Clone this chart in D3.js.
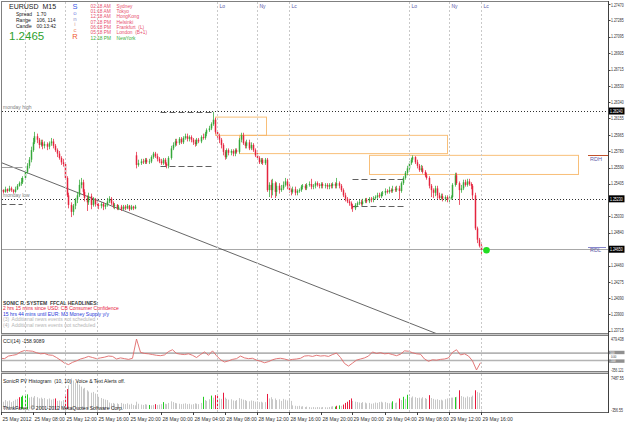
<!DOCTYPE html>
<html><head><meta charset="utf-8">
<script src="https://d3js.org/d3.v7.min.js"></script>
<style>
html,body{margin:0;padding:0;background:#fff;}
svg{display:block;font-family:"Liberation Sans",Arial,sans-serif;}
</style></head>
<body>
<svg id="chart" width="625" height="424"></svg>
<script>
// ---------- DATA ----------
const symbolName = "EURUSD  M15";
const lastPrice = 1.2465;
const infoRows = [["Spread","1.70"],["Range","106, 114"],["Candle","00:13:42"]];
const sonicLetters = ["S","o","n","i","c","R"];
const sonicColors = ["#3c5ae6","#7d8ee8","#8c8ccc","#d6a0a8","#ee8a6a","#f0582e"];
const clockTimes = ["02:18 AM","01:18 AM","12:18 AM","07:18 PM","06:18 PM","05:18 PM","12:18 PM"];
const clockCities = ["Sydney","Tokyo","HongKong","Helsinki","Frankfurt  (L)","London  (B+1)","NewYork"];
const headlines = ["SONIC R. SYSTEM  FFCAL HEADLINES:","2 hrs 15 mins since USD: CB Consumer Confidence","15 hrs 44 mins until EUR: M3 Money Supply y/y","(3)  Additional news events not scheduled","(4)  Additional news events not scheduled"];
const headlineColors = ["#3a3a3a","#e8203c","#2438d8","#b4b4b4","#b4b4b4"];

const timeLabels = ["25 May 2012","25 May 08:00","25 May 12:00","25 May 16:00","25 May 20:00","28 May 00:00","28 May 04:00","28 May 08:00","28 May 12:00","28 May 16:00","28 May 20:00","29 May 00:00","29 May 04:00","29 May 08:00","29 May 12:00","29 May 16:00"];
const priceTicks = ["1.27470","1.27285","1.27095","1.26905","1.26715","1.26530","1.26340","1.26155","1.25965","1.25780","1.25590","1.25405","1.25220","1.25030","1.24840","1.24650","1.24460","1.24275","1.24090","1.23900","1.23715"];

const sessionBars = [12,32,48,108,128,144,204,224,240];
const sessionNames = ["Lo","Ny","Lc","Lo","Ny","Lc","Lo","Ny","Lc"];
const sessionShown = [0,0,0,1,1,1,1,1,1];

const open = [1.2532,1.2533,1.2531,1.2534,1.2532,1.2535,1.2533,1.2531,1.2534,1.2538,
1.2541,1.2542,1.2547,1.2554,1.2561,1.2568,1.2579,1.2588,1.2595,1.2591,
1.2585,1.2588,1.2584,1.2586,1.2583,1.2587,1.2589,1.2584,1.2579,1.2575,
1.2570,1.2565,1.2563,1.2547,1.2527,1.2516,1.2508,1.2515,1.2522,1.2527,
1.2539,1.2542,1.2531,1.2524,1.2519,1.2526,1.2516,1.2522,1.2517,1.2516,
1.2515,1.2517,1.2514,1.2516,1.2520,1.2523,1.2518,1.2515,1.2516,1.2512,
1.2514,1.2511,1.2514,1.2512,1.2515,1.2511,1.2514,1.2512,
1.2573,1.2562,
1.2564,1.2566,1.2565,1.2568,1.2565,1.2566,1.2571,1.2575,1.2572,1.2569,
1.2566,1.2564,1.2568,1.2563,1.2561,1.2570,1.2581,1.2585,1.2589,1.2587,
1.2592,1.2588,1.2593,1.2595,1.2592,1.2594,1.2591,1.2588,1.2586,1.2591,
1.2589,1.2594,1.2593,1.2598,1.2602,1.2604,1.2609,1.2614,1.2600,1.2595,
1.2591,1.2585,1.2577,1.2571,1.2579,1.2576,1.2578,1.2575,1.2579,1.2577,
1.2591,1.2596,1.2587,1.2584,1.2588,1.2581,1.2585,1.2579,1.2573,1.2570,
1.2565,1.2568,1.2564,1.2568,1.2533,1.2539,1.2533,1.2541,1.2531,1.2538,
1.2533,1.2535,1.2539,1.2543,1.2538,1.2533,1.2531,1.2534,1.2530,1.2532,
1.2533,1.2537,1.2538,1.2535,1.2539,1.2540,1.2537,1.2538,1.2541,1.2539,
1.2538,1.2540,1.2538,1.2539,1.2537,1.2539,1.2538,1.2540,1.2538,1.2541,
1.2538,1.2533,1.2527,1.2523,1.2520,1.2518,1.2515,1.2512,1.2516,1.2518,
1.2519,1.2517,1.2520,1.2522,1.2520,1.2523,1.2522,1.2524,1.2525,1.2527,
1.2526,1.2529,1.2530,1.2532,1.2531,1.2533,1.2532,1.2534,1.2533,1.2535,
1.2532,1.2541,1.2547,1.2553,1.2558,1.2564,1.2568,1.2571,1.2565,1.2561,
1.2556,1.2558,1.2554,1.2550,1.2547,1.2538,1.2533,1.2530,1.2535,1.2527,
1.2524,1.2526,1.2523,1.2525,1.2522,1.2524,1.2525,1.2539,1.2550,1.2541,
1.2533,1.2535,1.2542,1.2539,1.2543,1.2540,1.2538,1.2527,1.2489,1.2476,
1.2469];
const high = [1.2535,1.2534,1.2537,1.2535,1.2538,1.2537,1.2534,1.2537,1.2540,1.2543,
1.2547,1.2549,1.2556,1.2564,1.2571,1.2583,1.2593,1.2600,1.2598,1.2593,
1.2591,1.2591,1.2589,1.2588,1.2589,1.2593,1.2592,1.2586,1.2581,1.2578,
1.2572,1.2569,1.2565,1.2549,1.2530,1.2519,1.2517,1.2524,1.2531,1.2545,
1.2547,1.2545,1.2534,1.2527,1.2530,1.2529,1.2525,1.2524,1.2520,1.2518,
1.2519,1.2519,1.2518,1.2524,1.2526,1.2525,1.2520,1.2518,1.2517,1.2516,
1.2516,1.2516,1.2516,1.2517,1.2516,1.2516,1.2515,1.2516,
1.2577,1.2568,
1.2569,1.2569,1.2570,1.2570,1.2569,1.2573,1.2577,1.2577,1.2575,1.2571,
1.2569,1.2570,1.2570,1.2565,1.2572,1.2584,1.2588,1.2592,1.2592,1.2594,
1.2594,1.2595,1.2598,1.2598,1.2596,1.2596,1.2593,1.2591,1.2593,1.2593,
1.2596,1.2598,1.2600,1.2604,1.2607,1.2611,1.2623,1.2616,1.2602,1.2598,
1.2593,1.2587,1.2579,1.2581,1.2581,1.2580,1.2580,1.2581,1.2581,1.2593,
1.2599,1.2599,1.2589,1.2591,1.2591,1.2588,1.2587,1.2581,1.2576,1.2572,
1.2570,1.2570,1.2570,1.2570,1.2542,1.2545,1.2546,1.2543,1.2542,1.2541,
1.2539,1.2543,1.2547,1.2546,1.2540,1.2535,1.2537,1.2537,1.2534,1.2535,
1.2539,1.2540,1.2540,1.2541,1.2543,1.2546,1.2540,1.2543,1.2543,1.2541,
1.2542,1.2542,1.2541,1.2541,1.2541,1.2541,1.2542,1.2542,1.2547,1.2543,
1.2540,1.2535,1.2530,1.2525,1.2523,1.2520,1.2517,1.2518,1.2520,1.2522,
1.2522,1.2523,1.2524,1.2524,1.2525,1.2525,1.2526,1.2527,1.2530,1.2530,
1.2531,1.2532,1.2535,1.2534,1.2537,1.2535,1.2538,1.2537,1.2538,1.2538,
1.2543,1.2549,1.2555,1.2561,1.2566,1.2570,1.2573,1.2572,1.2568,1.2563,
1.2562,1.2561,1.2556,1.2553,1.2549,1.2540,1.2535,1.2538,1.2538,1.2530,
1.2529,1.2529,1.2527,1.2527,1.2526,1.2527,1.2541,1.2553,1.2553,1.2543,
1.2539,1.2545,1.2545,1.2546,1.2546,1.2542,1.2540,1.2530,1.2491,1.2478,
1.2471];
const low = [1.2530,1.2529,1.2530,1.2530,1.2531,1.2531,1.2529,1.2530,1.2533,1.2537,
1.2538,1.2540,1.2545,1.2552,1.2558,1.2565,1.2577,1.2586,1.2587,1.2581,
1.2583,1.2580,1.2581,1.2579,1.2580,1.2584,1.2581,1.2577,1.2571,1.2568,
1.2562,1.2560,1.2545,1.2525,1.2512,1.2502,1.2504,1.2511,1.2518,1.2525,
1.2535,1.2527,1.2520,1.2509,1.2516,1.2511,1.2514,1.2514,1.2512,1.2511,
1.2512,1.2510,1.2511,1.2514,1.2518,1.2516,1.2512,1.2511,1.2510,1.2510,
1.2509,1.2510,1.2510,1.2511,1.2509,1.2510,1.2510,1.2511,
1.2558,1.2560,
1.2562,1.2563,1.2563,1.2563,1.2563,1.2564,1.2569,1.2570,1.2566,1.2564,
1.2562,1.2562,1.2561,1.2558,1.2558,1.2568,1.2579,1.2583,1.2584,1.2585,
1.2586,1.2586,1.2591,1.2589,1.2589,1.2588,1.2585,1.2583,1.2584,1.2587,
1.2587,1.2591,1.2591,1.2595,1.2600,1.2602,1.2607,1.2598,1.2592,1.2587,
1.2581,1.2573,1.2568,1.2569,1.2573,1.2573,1.2572,1.2572,1.2575,1.2575,
1.2588,1.2585,1.2581,1.2581,1.2579,1.2579,1.2577,1.2571,1.2568,1.2563,
1.2563,1.2562,1.2562,1.2531,1.2525,1.2524,1.2527,1.2524,1.2526,1.2529,
1.2531,1.2533,1.2537,1.2534,1.2530,1.2527,1.2529,1.2527,1.2527,1.2530,
1.2531,1.2534,1.2533,1.2533,1.2537,1.2534,1.2534,1.2535,1.2537,1.2535,
1.2535,1.2535,1.2535,1.2534,1.2534,1.2535,1.2535,1.2535,1.2535,1.2535,
1.2531,1.2525,1.2520,1.2518,1.2515,1.2511,1.2508,1.2510,1.2514,1.2516,
1.2515,1.2515,1.2518,1.2518,1.2518,1.2519,1.2519,1.2522,1.2523,1.2524,
1.2524,1.2526,1.2527,1.2529,1.2529,1.2530,1.2530,1.2531,1.2531,1.2522,
1.2530,1.2539,1.2545,1.2550,1.2556,1.2562,1.2565,1.2563,1.2558,1.2554,
1.2554,1.2552,1.2548,1.2545,1.2535,1.2525,1.2524,1.2526,1.2523,1.2522,
1.2522,1.2520,1.2520,1.2519,1.2519,1.2522,1.2523,1.2537,1.2539,1.2516,
1.2530,1.2533,1.2537,1.2537,1.2538,1.2534,1.2522,1.2487,1.2472,1.2467,
1.2458];
const close = [1.2533,1.2531,1.2534,1.2532,1.2535,1.2533,1.2531,1.2534,1.2538,1.2541,
1.2542,1.2547,1.2554,1.2561,1.2568,1.2579,1.2588,1.2595,1.2591,1.2585,
1.2588,1.2584,1.2586,1.2583,1.2587,1.2589,1.2584,1.2579,1.2575,1.2570,
1.2565,1.2563,1.2547,1.2527,1.2516,1.2508,1.2515,1.2522,1.2527,1.2539,
1.2542,1.2531,1.2524,1.2519,1.2526,1.2516,1.2522,1.2517,1.2516,1.2515,
1.2517,1.2514,1.2516,1.2520,1.2523,1.2518,1.2515,1.2516,1.2512,1.2514,
1.2511,1.2514,1.2512,1.2515,1.2511,1.2514,1.2512,1.2514,
1.2562,1.2564,
1.2566,1.2565,1.2568,1.2565,1.2566,1.2571,1.2575,1.2572,1.2569,1.2566,
1.2564,1.2568,1.2563,1.2561,1.2570,1.2581,1.2585,1.2589,1.2587,1.2592,
1.2588,1.2593,1.2595,1.2592,1.2594,1.2591,1.2588,1.2586,1.2591,1.2589,
1.2594,1.2593,1.2598,1.2602,1.2604,1.2609,1.2614,1.2600,1.2595,1.2591,
1.2585,1.2577,1.2571,1.2579,1.2576,1.2578,1.2575,1.2579,1.2577,1.2591,
1.2596,1.2587,1.2584,1.2588,1.2581,1.2585,1.2579,1.2573,1.2570,1.2565,
1.2568,1.2564,1.2568,1.2533,1.2539,1.2533,1.2541,1.2531,1.2538,1.2533,
1.2535,1.2539,1.2543,1.2538,1.2533,1.2531,1.2534,1.2530,1.2532,1.2533,
1.2537,1.2538,1.2535,1.2539,1.2540,1.2537,1.2538,1.2541,1.2539,1.2538,
1.2540,1.2538,1.2539,1.2537,1.2539,1.2538,1.2540,1.2538,1.2541,1.2538,
1.2533,1.2527,1.2523,1.2520,1.2518,1.2515,1.2512,1.2516,1.2518,1.2519,
1.2517,1.2520,1.2522,1.2520,1.2523,1.2522,1.2524,1.2525,1.2527,1.2526,
1.2529,1.2530,1.2532,1.2531,1.2533,1.2532,1.2534,1.2533,1.2535,1.2532,
1.2541,1.2547,1.2553,1.2558,1.2564,1.2568,1.2571,1.2565,1.2561,1.2556,
1.2558,1.2554,1.2550,1.2547,1.2538,1.2533,1.2530,1.2535,1.2527,1.2524,
1.2526,1.2523,1.2525,1.2522,1.2524,1.2525,1.2539,1.2550,1.2541,1.2533,
1.2535,1.2542,1.2539,1.2543,1.2540,1.2538,1.2527,1.2489,1.2476,1.2469,
1.2465];

// CCI(14) read every second bar (bar = 2*k)
const cciValues = [-40,-50,20,40,60,130,170,160,150,110,
80,90,50,40,-20,-90,-170,-210,-150,-110,
-60,-30,10,-20,-50,-30,-10,20,10,-60,
-30,-50,-70,-40,479,120,90,80,60,40,
30,50,140,190,90,70,60,80,40,-20,
60,130,40,160,30,-80,-140,-110,-70,-50,
20,-30,-50,-40,-90,-120,-160,-130,-80,-50,
-40,-60,-90,-70,-60,-40,20,30,10,40,
20,30,10,60,100,-20,-180,-250,-170,-90,
-60,-30,20,130,90,110,80,90,60,30,
70,160,150,110,80,70,-60,-120,-80,-90,
-70,-60,-30,120,190,50,80,20,-110,-356,
-159];
const cciLevels = [100,-100];

const volume = [2000,1800,2200,1900,2100,1700,2000,2300,2500,2900,
3000,3300,3500,3600,2800,3000,2800,3200,2900,2600,
2800,2500,2700,2400,2600,2300,2500,2600,2000,2100,
1900,2200,3100,4900,5800,7487,7000,6500,6800,6000,
5500,5000,5200,4600,4300,4000,4200,3800,3300,3000,
2700,2500,2300,2200,1600,1400,1500,1300,1400,1200,
1500,1300,1200,1400,1100,1300,1000,900,1800,1300,
1100,1000,1200,1100,1000,900,1000,1200,1000,1100,
1200,1700,1300,1200,1500,1900,1700,1500,1400,1300,
1200,1300,1400,1200,1300,1100,1200,1400,1300,1200,
1500,3000,2200,2000,2400,3300,2800,3400,3600,2600,
2500,4000,2800,2500,2300,2400,2100,2000,2200,2700,
2500,2300,2200,2000,1900,2100,2000,1800,1900,1700,
1800,1600,1700,3700,2600,2900,2400,2600,2200,2400,
2000,2500,2300,2100,2600,2000,900,800,700,800,
600,700,500,600,500,400,500,400,500,450,
400,500,450,400,500,600,700,600,800,900,
800,1100,1500,1800,2200,2600,2000,1800,1700,1600,
1500,1700,1600,1400,1500,1300,1400,1600,1500,1700,
1800,1600,1700,1500,1400,1600,1900,1500,1600,2600,
2200,3000,2500,3500,3000,2800,3100,2900,2700,2800,
2600,2900,2700,2500,3400,2700,2500,2300,2400,2200,
2300,2100,2400,2600,2500,2800,2800,2900,3000,4600,
3200,3000,2800,3100,2900,3000,3300,4600,4200,4000,
600];
const volUpBars = [10,11,12,13,74,81,101,105,167,169,196,201,203,227];
const volDownBars = [9,27,32,33,77,107,108,111,133,168,171,172,173,174,175,199,214,229,237];

const mondayHigh = 1.2624, mondayLow = 1.2523;
const rdh = 1.2573, rdl = 1.2467;
const trendStart = {bar:0, price:1.2565}, trendEnd = {bar:240, price:1.2348};
const boxes = [ {b0:107.5,b1:133,p0:1.2617,p1:1.2596},
                {b0:119.5,b1:223.5,p0:1.2596,p1:1.2575},
                {b0:184.5,b1:289,p0:1.2573,p1:1.2551} ];
const rangeLines = [ {b0:0,b1:11,p:1.2560,dash:false},{b0:0,b1:11,p:1.2517,dash:true},
                     {b0:80,b1:106,p:1.2623,dash:true},{b0:80,b1:106,p:1.2561,dash:true},
                     {b0:176,b1:202,p:1.2546,dash:true},{b0:176,b1:202,p:1.2515,dash:true} ];

// ---------- SCALES ----------
const svg = d3.select("#chart");
const AX = 608;
const x = d3.scaleLinear().domain([0,240]).range([0.5,480.5]);
const y = d3.scaleLinear().domain([1.23715,1.27470]).range([330.5,4.1]);
const yC = d3.scaleLinear().domain([-356.121,479.438]).range([370,339]);
const yH = d3.scaleLinear().domain([-356.55,7487.55]).range([410.5,378.5]);
const px = i => Math.round(x(i)) + 0.5;

svg.append("rect").attr("width",625).attr("height",424).attr("fill","#fff");
const defs = svg.append("defs");
defs.append("clipPath").attr("id","cm").append("rect").attr("x",2).attr("y",2).attr("width",AX-2).attr("height",331);
defs.append("clipPath").attr("id","cc").append("rect").attr("x",2).attr("y",337).attr("width",AX-2).attr("height",34);
defs.append("clipPath").attr("id","ch").append("rect").attr("x",2).attr("y",374).attr("width",AX-2).attr("height",38);

const gM = svg.append("g").attr("clip-path","url(#cm)");
const gC = svg.append("g").attr("clip-path","url(#cc)");
const gH = svg.append("g").attr("clip-path","url(#ch)");

// session lines (all panes)
svg.append("g").selectAll("line").data(sessionBars).join("line")
  .attr("x1",d=>px(d)).attr("x2",d=>px(d)).attr("y1",2).attr("y2",412)
  .attr("stroke","#c9c9c9").attr("stroke-dasharray","2,2").attr("stroke-width",1);
svg.append("g").selectAll("text").data(sessionBars.filter((d,i)=>sessionShown[i]))
  .join("text").attr("x",d=>px(d)+2).attr("y",8).attr("font-size",5).attr("fill","#5a5aa8")
  .text((d,i)=>sessionNames.filter((n,j)=>sessionShown[j])[i]);

// monday high/low dotted
[mondayHigh,mondayLow].forEach(p=>{
  gM.append("line").attr("x1",2).attr("x2",AX).attr("y1",Math.round(y(p))+0.5).attr("y2",Math.round(y(p))+0.5)
    .attr("stroke","#303030").attr("stroke-dasharray","1,2");
});
gM.append("text").attr("x",3).attr("y",y(mondayHigh)-2).attr("font-size",5).attr("fill","#808080").text("monday high");
gM.append("text").attr("x",3).attr("y",y(mondayLow)-2).attr("font-size",5).attr("fill","#808080").text("monday low");

// current price line
gM.append("line").attr("x1",2).attr("x2",AX).attr("y1",Math.round(y(lastPrice))+0.5).attr("y2",Math.round(y(lastPrice))+0.5)
  .attr("stroke","#a8a8a8");

// trendline
gM.append("line").attr("x1",x(trendStart.bar)).attr("y1",y(trendStart.price))
  .attr("x2",x(trendEnd.bar)).attr("y2",y(trendEnd.price)).attr("stroke","#404040").attr("stroke-width",0.8);

// boxes
gM.selectAll("rect.box").data(boxes).join("rect").attr("class","box")
  .attr("x",d=>x(d.b0)).attr("width",d=>x(d.b1)-x(d.b0))
  .attr("y",d=>y(d.p0)).attr("height",d=>y(d.p1)-y(d.p0))
  .attr("fill","none").attr("stroke","#f7b462").attr("stroke-width",1).attr("stroke-opacity",0.85);

// range dashed lines
gM.selectAll("line.rng").data(rangeLines).join("line").attr("class","rng")
  .attr("x1",d=>x(d.b0)).attr("x2",d=>x(d.b1)).attr("y1",d=>Math.round(y(d.p))+0.5).attr("y2",d=>Math.round(y(d.p))+0.5)
  .attr("stroke",d=>d.dash?"#606060":"#a0a0a0").attr("stroke-dasharray",d=>d.dash?"6,3":null);

// candles
const bull="#35a83a", bear="#e4243f";
const cg = gM.append("g");
close.forEach((c,i)=>{
  const col = c>=open[i]?bull:bear;
  cg.append("line").attr("x1",px(i)).attr("x2",px(i)).attr("y1",y(high[i])).attr("y2",y(low[i]))
    .attr("stroke",col).attr("stroke-width",1).attr("stroke-opacity",0.75);
  const t=Math.min(y(open[i]),y(c)), b=Math.max(y(open[i]),y(c));
  cg.append("rect").attr("x",px(i)-0.75).attr("width",1.5).attr("y",t).attr("height",Math.max(0.8,b-t)).attr("fill",col);
});
// green dot
gM.append("circle").attr("cx",x(240)+6).attr("cy",y(lastPrice)+1).attr("r",3.3).attr("fill","#22dd22");

// RDH / RDL
svg.append("line").attr("x1",588).attr("x2",AX).attr("y1",Math.round(y(rdh))+0.5).attr("y2",Math.round(y(rdh))+0.5).attr("stroke","#c0502a");
svg.append("text").attr("x",590).attr("y",y(rdh)+6).attr("font-size",5.5).attr("fill","#6060a8").text("RDH");
svg.append("line").attr("x1",588).attr("x2",AX-2).attr("y1",Math.round(y(rdl))+0.5).attr("y2",Math.round(y(rdl))+0.5).attr("stroke","#8888cc");
svg.append("text").attr("x",590).attr("y",y(rdl)+5).attr("font-size",5.5).attr("fill","#6060a8").text("RDL");

// info panel
svg.append("text").attr("x",9).attr("y",9).attr("font-size",7).attr("fill","#202020").attr("xml:space","preserve").text(symbolName);
infoRows.forEach((r,k)=>{
  svg.append("text").attr("x",16).attr("y",16.3+6*k).attr("font-size",5).attr("fill","#202020").text(r[0]);
  svg.append("text").attr("x",36.5).attr("y",16.3+6*k).attr("font-size",5).attr("fill","#202020").text(r[1]);
});
svg.append("text").attr("x",9).attr("y",40).attr("font-size",11.5).attr("fill","#2ea12e").text(d3.format(".4f")(lastPrice));
sonicLetters.forEach((l,k)=>{
  const big = (k===0||k===5);
  svg.append("text").attr("x",75).attr("y",[8.8,14.6,20.6,26.4,32,39][k]).attr("text-anchor","middle")
    .attr("font-size",big?7.5:6).attr("fill",sonicColors[k]).text(l);
});
clockTimes.forEach((t,k)=>{
  const col = k===6?"#3aae3a":"#e8506e";
  svg.append("text").attr("x",90.5).attr("y",7.8+5.3*k).attr("font-size",4.8).attr("fill",col).text(t);
  svg.append("text").attr("x",116.5).attr("y",7.8+5.3*k).attr("font-size",4.8).attr("fill",col).attr("xml:space","preserve").text(clockCities[k]);
});
headlines.forEach((h,k)=>{
  svg.append("text").attr("x",3).attr("y",305+5.4*k).attr("font-size",5).attr("fill",headlineColors[k])
    .attr("font-weight",k===0?"bold":null).attr("xml:space","preserve").text(h);
});

// CCI pane
cciLevels.forEach(l=>{
  gC.append("line").attr("x1",2).attr("x2",AX).attr("y1",yC(l)).attr("y2",yC(l)).attr("stroke","#b4b4b4").attr("stroke-width",1.6);
});
gC.append("path").datum(cciValues).attr("fill","none").attr("stroke","#e06a6a").attr("stroke-width",0.9)
  .attr("d",d3.line().x((d,k)=>x(2*k)).y(d=>yC(d)));
svg.append("text").attr("x",3).attr("y",343).attr("font-size",5).attr("fill","#202020").text("CCI(14) -158.9089");

// histogram
const upSet=new Set(volUpBars), dnSet=new Set(volDownBars);
gH.selectAll("rect.v").data(volume).join("rect").attr("class","v")
  .attr("x",(d,i)=>Math.round(x(i))).attr("width",1)
  .attr("y",d=>yH(d)).attr("height",d=>yH(0)-yH(d))
  .attr("fill",(d,i)=>upSet.has(i)?"#22cc22":dnSet.has(i)?"#e8183c":"#c8c8c8");
svg.append("text").attr("x",3).attr("y",383).attr("font-size",5).attr("fill","#202020").attr("xml:space","preserve").text("SonicR PV Histogram  (10, 10)   Voice & Text Alerts off.");
svg.append("text").attr("x",3).attr("y",410).attr("font-size",5).attr("fill","#202020").text("ThinkForex, \u00a9 2001-2012 MetaQuotes Software Corp.");

// frame & separators
const fr = svg.append("g");
fr.append("line").attr("x1",1).attr("x2",AX).attr("y1",1.5).attr("y2",1.5).attr("stroke","#808080");
fr.append("line").attr("x1",1.5).attr("x2",1.5).attr("y1",1).attr("y2",413).attr("stroke","#808080");
[[333,336],[371,374]].forEach(([a,b])=>{
  fr.append("rect").attr("x",1).attr("width",AX-1).attr("y",a).attr("height",b-a).attr("fill","#c8c8c8");
  fr.append("line").attr("x1",1).attr("x2",AX).attr("y1",a+0.5).attr("y2",a+0.5).attr("stroke","#808080");
  fr.append("line").attr("x1",1).attr("x2",AX).attr("y1",b-0.5).attr("y2",b-0.5).attr("stroke","#808080");
});
fr.append("line").attr("x1",1).attr("x2",AX).attr("y1",412.5).attr("y2",412.5).attr("stroke","#606060");
fr.append("line").attr("x1",AX+0.5).attr("x2",AX+0.5).attr("y1",1).attr("y2",413).attr("stroke","#404040");

// right axis labels: horizontally condensed small text so it fits the 16px strip
const ax = svg.append("g").attr("fill","#303030");
function axText(yy, txt, opts){
  opts = opts||{};
  const g = ax.append("g").attr("transform",`translate(${opts.x||AX+3},${yy}) scale(${opts.sx||0.7},1)`);
  g.append("text").attr("y",opts.dy||1.7).attr("font-size",opts.fs||5).attr("fill",opts.fill||"#303030").text(txt);
}
priceTicks.forEach(t=>{
  const yv = y(parseFloat(t));
  ax.append("line").attr("x1",AX).attr("x2",AX+2.5).attr("y1",Math.round(yv)+0.5).attr("y2",Math.round(yv)+0.5).attr("stroke","#404040");
  axText(Math.max(yv,5), t);
});
function hl(yy, txt, bg, fg, h, fs){
  h = h||7;
  ax.append("rect").attr("x",AX+1).attr("y",yy-h/2).attr("width",15.5).attr("height",h).attr("fill",bg);
  axText(yy, txt, {x:AX+2, fill:fg, fs:fs||5, sx:h<7?0.9:0.7, dy:h<7?1.1:1.7});
}
hl(y(mondayHigh),"1.26240","#000","#fff");
hl(y(mondayLow),"1.25230","#000","#fff");
hl(y(lastPrice),"1.24650","#000","#fff");
// CCI labels (tightly packed like the original)
axText(yC(479.438),"479.438");
axText(yC(0),"0.00",{fs:3.1,sx:0.9,dy:1.1});
axText(yC(-356.121),"-356.121",{sx:0.64});
hl(yC(100)-0.6,"100","#909090","#fff",3.4,3.1);
hl(yC(-100)+0.6,"-100","#909090","#fff",3.4,3.1);
axText(yH(7487.55),"7487.55");
axText(yH(-356.55),"-356.55");

// time axis
const ta = svg.append("g").attr("font-size",5).attr("fill","#303030");
timeLabels.forEach((t,k)=>{
  const xx = px(16*k);
  ta.append("line").attr("x1",xx).attr("x2",xx).attr("y1",412).attr("y2",415).attr("stroke","#404040");
  ta.append("text").attr("x",xx+1).attr("y",420.5).text(t);
});
</script>
</body></html>
